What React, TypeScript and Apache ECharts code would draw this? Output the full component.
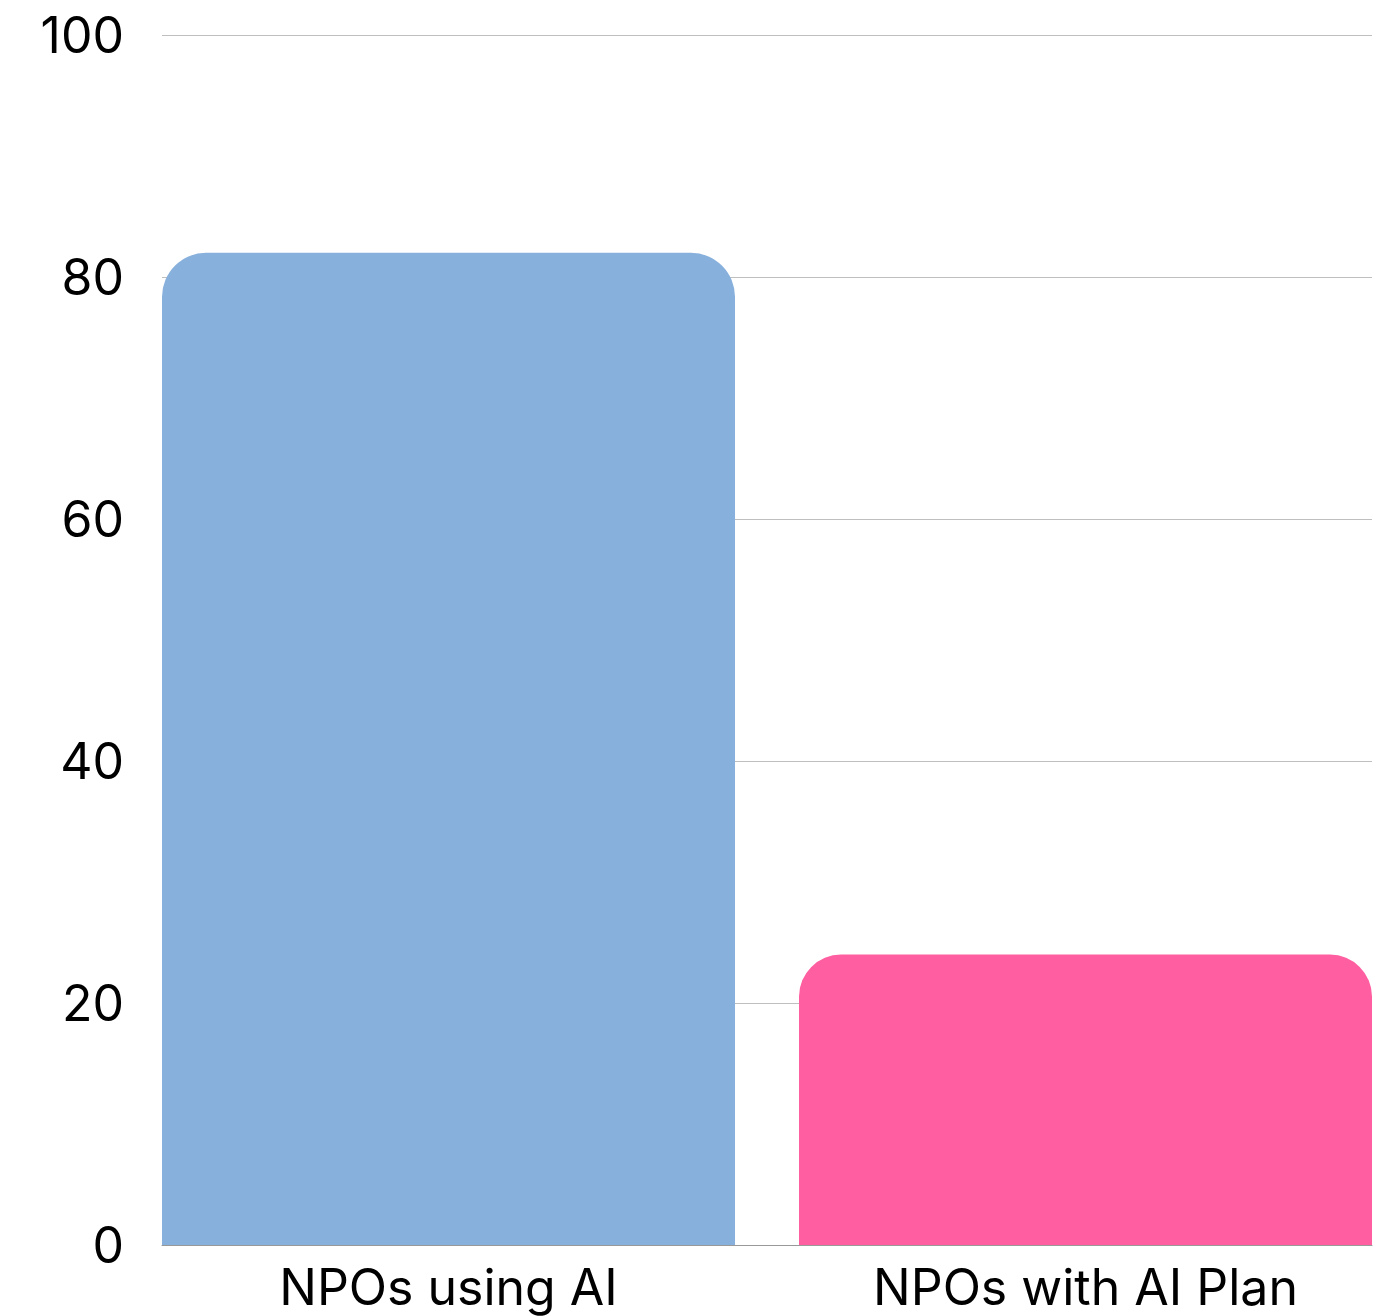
import React, { useEffect, useRef } from "react";
import * as echarts from "echarts";

const categories = ["NPOs using AI", "NPOs with AI Plan"];
const usingAI = [82, "-"];
const withPlan = ["-", 24];
const yTicks = [0, 20, 40, 60, 80, 100];

const FONT = "Inter, Lato, 'Noto Sans', sans-serif";

export default function App() {
  const ref = useRef<HTMLDivElement>(null);
  useEffect(() => {
    if (!ref.current) return;
    const chart = echarts.init(ref.current, undefined, { renderer: "svg" });
    chart.setOption({
      animation: false,
      grid: { left: 162, right: 20, top: 35, bottom: 71, containLabel: false },
      xAxis: {
        type: "category",
        data: [
          { value: categories[0], textStyle: { padding: [0, 32, 0, 0] } },
          { value: categories[1], textStyle: { padding: [0, 0, 0, 32] } },
        ],
        axisTick: { show: false },
        axisLine: { show: true, lineStyle: { color: "#999999", width: 1 } },
        axisLabel: {
          color: "#000000",
          fontSize: 50,
          fontFamily: FONT,
          margin: 17,
        },
      },
      yAxis: {
        type: "value",
        min: yTicks[0],
        max: yTicks[yTicks.length - 1],
        interval: 20,
        axisLine: { show: false },
        axisTick: { show: false },
        splitLine: { lineStyle: { color: "#bfbfbf", width: 1 } },
        axisLabel: {
          color: "#000000",
          fontSize: 50,
          fontFamily: FONT,
          margin: 38,
        },
      },
      series: [
        {
          type: "bar",
          name: "NPOs using AI",
          data: usingAI,
          barWidth: 573,
          barGap: "-94.415%",
          itemStyle: { color: "#87B0DC", borderRadius: [44, 44, 0, 0] },
        },
        {
          type: "bar",
          name: "NPOs with AI Plan",
          data: withPlan,
          barWidth: 573,
          itemStyle: { color: "#FF5EA0", borderRadius: [42, 42, 0, 0] },
        },
      ],
    });
    return () => chart.dispose();
  }, []);
  return (
    <div
      ref={ref}
      style={{ position: "absolute", left: 0, top: 0, width: 1392, height: 1316, background: "#fff" }}
    />
  );
}
